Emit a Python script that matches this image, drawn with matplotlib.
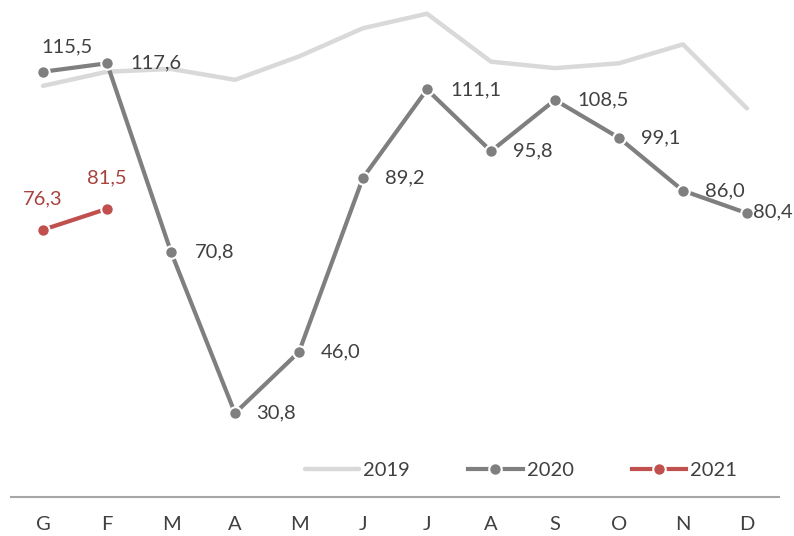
import matplotlib
matplotlib.use("Agg")
import matplotlib.pyplot as plt

plt.rcParams['font.family'] = ['Lato', 'DejaVu Sans']

# dati
mesi = ["G", "F", "M", "A", "M", "J", "J", "A", "S", "O", "N", "D"]
val_2019 = [112.0, 115.5, 116.2, 113.5, 119.3, 126.3, 129.9, 118.0, 116.4, 117.6, 122.3, 106.4]
val_2020 = [115.5, 117.6, 70.8, 30.8, 46.0, 89.2, 111.1, 95.8, 108.5, 99.1, 86.0, 80.4]
val_2021 = [76.3, 81.5]

# offset etichette (punti)
off_2020 = [(17, 18), (17, 0), (17, 0), (15, 0), (16, 0), (16, 0),
            (17, 0), (16, 0), (16, 0), (16, 0), (16, 0), (4, 1)]

col_grigio = "#7f7f7f"
col_chiaro = "#d9d9d9"
col_rosso = "#c0504d"
col_rosso_testo = "#a8423f"
col_testo = "#404040"
fs = 14.5

fig = plt.figure(figsize=(7.94, 5.36), dpi=100)
ax = fig.add_axes([11/794, 39/536, 768/794, 497/536])

x = list(range(len(mesi)))

ax.plot(x, val_2019, color=col_chiaro, lw=3.2, solid_capstyle="round",
        label="2019", zorder=1)
ax.plot(x, val_2020, color=col_grigio, lw=3, marker="o", ms=9,
        mec="white", mew=1.5, mfc=col_grigio, label="2020", zorder=2)
ax.plot(x[:len(val_2021)], val_2021, color=col_rosso, lw=3, marker="o", ms=9,
        mec="white", mew=1.5, mfc=col_rosso, label="2021", zorder=3)

fmt = lambda v: ("%.1f" % v).replace(".", ",")

for i, v in enumerate(val_2020):
    dx, dy = off_2020[i]
    ha = "center" if dy > 5 else "left"
    ax.annotate(fmt(v), (x[i], v), xytext=(dx, dy), textcoords="offset points",
                ha=ha, va="center", fontsize=fs, color=col_testo)

for i, v in enumerate(val_2021):
    ax.annotate(fmt(v), (x[i], v), xytext=(0, 22), textcoords="offset points",
                ha="center", va="center", fontsize=fs, color=col_rosso_testo)

ax.set_xlim(-0.5, len(mesi) - 0.5)
ax.set_ylim(10, 133.3)
ax.set_xticks(x)
ax.set_xticklabels(mesi, fontsize=fs, color=col_testo)
ax.tick_params(axis="x", length=0, pad=14)
ax.set_yticks([])
for s in ["top", "left", "right"]:
    ax.spines[s].set_visible(False)
ax.spines["bottom"].set_color("#a6a6a6")
ax.spines["bottom"].set_linewidth(1.5)

leg = ax.legend(loc="center", bbox_to_anchor=(0.664, 0.054), ncol=3,
                frameon=False, fontsize=fs, handlelength=2.7,
                handletextpad=0.2, columnspacing=2.9)
for t in leg.get_texts():
    t.set_color(col_testo)

plt.savefig("out.png", dpi=100)
